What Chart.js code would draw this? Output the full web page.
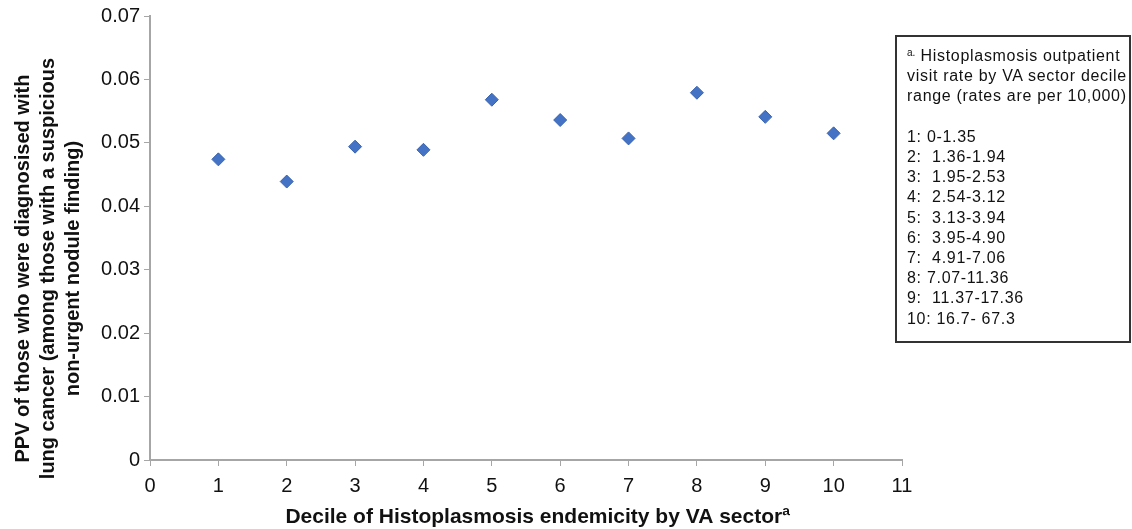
<!DOCTYPE html>
<html>
<head>
<meta charset="utf-8">
<script src="https://cdn.jsdelivr.net/npm/chart.js@4"></script>
<style>
  body { margin: 0; background: #fff; }
  #wrap { position: relative; width: 1132px; height: 529px; }
  #note {
    position: absolute; left: 895px; top: 35px; width: 222px; height: 293px;
    border: 2px solid #333; padding: 6px 0 5px 10px; box-sizing: content-box;
    font-family: "Liberation Sans", Arial, sans-serif; font-size: 16px; line-height: 20.2px;
    letter-spacing: 0.7px; color: #111; white-space: nowrap; overflow: hidden;
  }
  #note sup { font-size: 10px; vertical-align: 5px; letter-spacing: 0; }
</style>
</head>
<body>
<div id="wrap">
  <canvas id="chart" width="1132" height="529"></canvas>
  <div id="note"></div>
</div>
<script>
// Data
const deciles = [1, 2, 3, 4, 5, 6, 7, 8, 9, 10];
const ppv = [0.0474, 0.0439, 0.0494, 0.0489, 0.0568, 0.0536, 0.0507, 0.0579, 0.0541, 0.0515];
const rateRanges = ["0-1.35", " 1.36-1.94", " 1.95-2.53", " 2.54-3.12", " 3.13-3.94",
  " 3.95-4.90", " 4.91-7.06", "7.07-11.36", " 11.37-17.36", "16.7- 67.3"];
const yTitle = ["PPV of those who were diagnosised with",
  "lung cancer (among those with a suspicious",
  "non-urgent nodule finding)"];

// Footnote box
const note = document.getElementById("note");
let html = '<sup>a.</sup> Histoplasmosis outpatient<br>visit rate by VA sector decile<br>range (rates are per 10,000)<br><br>';
rateRanges.forEach((r, i) => {
  html += `${i + 1}: ${r.replace(/ /g, "&nbsp;")}<br>`;
});
note.innerHTML = html;

const axisColor = "#a6a6a6";
const font = "'Liberation Sans', Arial, sans-serif";
// trailing spaces push the rotated title a bit lower, like the original
const pad = "\u00a0".repeat(11);

const ctx = document.getElementById("chart").getContext("2d");
new Chart(ctx, {
  type: "scatter",
  data: {
    datasets: [{
      data: deciles.map((d, i) => ({ x: d, y: ppv[i] })),
      backgroundColor: "#4472c4",
      borderColor: "#3a64b0",
      borderWidth: 1,
      pointStyle: "rectRot",
      pointRadius: 6.5
    }]
  },
  options: {
    responsive: false,
    animation: false,
    layout: { padding: { top: 16, right: 230, left: 11, bottom: 0 } },
    plugins: { legend: { display: false }, tooltip: { enabled: false } },
    scales: {
      x: {
        type: "linear",
        min: 0, max: 11,
        ticks: { stepSize: 1, color: "#111", font: { family: font, size: 20 }, padding: 8 },
        grid: { drawOnChartArea: false, color: axisColor, tickLength: 6 },
        border: { color: axisColor, width: 2 },
        title: {
          display: true,
          text: "\u00a0\u00a0\u00a0\u00a0Decile of Histoplasmosis endemicity by VA sectorª",
          color: "#111",
          font: { family: font, size: 21, weight: "bold", lineHeight: 1.1 },
          padding: { top: 0, bottom: 0 }
        },
        afterFit: s => { s.height = 69; }
      },
      y: {
        min: 0, max: 0.07,
        ticks: {
          stepSize: 0.01, color: "#111", font: { family: font, size: 20 }, padding: 4,
          callback: v => v === 0 ? "0" : v.toFixed(2)
        },
        grid: { drawOnChartArea: false, color: axisColor, tickLength: 6 },
        border: { color: axisColor, width: 2 },
        title: {
          display: true,
          text: yTitle.map(t => t + pad),
          color: "#111",
          font: { family: font, size: 20, weight: "bold", lineHeight: 1.25 },
          padding: { top: 0, bottom: 2 }
        },
        afterFit: s => { s.width = 139; }
      }
    }
  }
});
</script>
</body>
</html>
